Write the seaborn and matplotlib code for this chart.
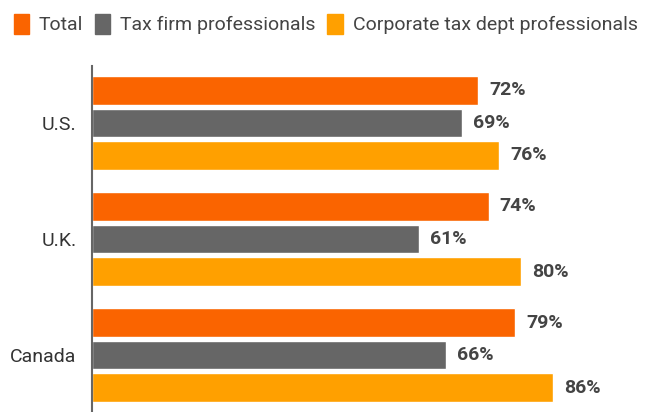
import matplotlib
matplotlib.use("Agg")
import matplotlib.pyplot as plt
import matplotlib.patches as mpatches
import seaborn as sns
import pandas as pd

regions = ["U.S.", "U.K.", "Canada"]
groups = ["Total", "Tax firm professionals", "Corporate tax dept professionals"]
total = [72, 74, 79]
tax_firm = [69, 61, 66]
corporate = [76, 80, 86]
colors = ["#FA6400", "#666666", "#FFA000"]

rows = []
for g, vals in zip(groups, [total, tax_firm, corporate]):
    for r, v in zip(regions, vals):
        rows.append({"region": r, "group": g, "value": v})
df = pd.DataFrame(rows)

sns.set_style("white")
plt.rcParams["font.family"] = ["Roboto", "DejaVu Sans"]

fig = plt.figure(figsize=(6.52, 4.12), dpi=100)
ax = fig.add_axes([92 / 652, 0.0, (628 - 92) / 652, (412 - 66) / 412])

sns.barplot(data=df, y="region", x="value", hue="group", order=regions,
            hue_order=groups, palette=colors, orient="h", width=0.84,
            gap=0.12, legend=False, ax=ax, saturation=1)

for cont in ax.containers:
    ax.bar_label(cont, labels=[f"{int(v)}%" for v in cont.datavalues],
                 padding=8, fontsize=14, fontweight="bold", color="#444444")

ax.set_xlim(0, 100)
ax.set_ylim(2.49, -0.49)
ax.set_xlabel("")
ax.set_ylabel("")
ax.set_xticks([])
for s in ["top", "right", "bottom"]:
    ax.spines[s].set_visible(False)
ax.spines["left"].set_color("#666666")
ax.spines["left"].set_linewidth(1.5)
ax.tick_params(axis="y", length=0, pad=11, labelsize=14, labelcolor="#333333")

handles = [mpatches.Patch(color=c, label=g) for c, g in zip(colors, groups)]
fig.legend(handles=handles, loc="upper left", bbox_to_anchor=(0.0, 1.0),
           ncol=3, frameon=False, fontsize=14, labelcolor="#444444",
           handlelength=0.8, handleheight=1.25, handletextpad=0.5,
           columnspacing=0.6, borderaxespad=0.3)

fig.savefig("out.png", dpi=100)
